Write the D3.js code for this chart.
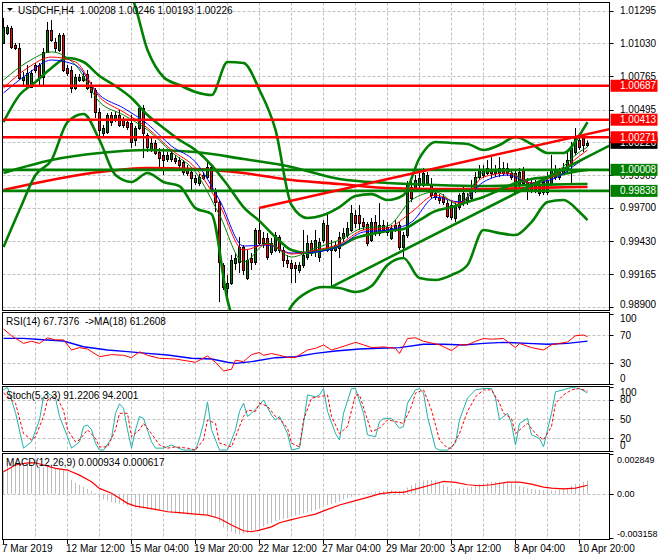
<!DOCTYPE html>
<html><head><meta charset="utf-8">
<script src="https://cdn.jsdelivr.net/npm/d3@7"></script>
<style>
body{margin:0;background:#fff}
svg{display:block}
text{font-family:"Liberation Sans",Arial,sans-serif;font-size:10px;white-space:pre}
</style></head>
<body><svg id="c" width="660" height="560"></svg>
<script>
// ---------- DATA ----------
const symbolTitle = "USDCHF,H4  1.00208 1.00246 1.00193 1.00226";
const openP = [
1.01033,1.01113,1.01154,1.01016,1.00992,1.00734,1.00677,1.00677,1.00855,1.00855,
1.00758,1.00960,1.01138,1.01041,1.00976,1.01097,1.00831,1.00814,1.00669,1.00734,
1.00734,1.00782,1.00677,1.00653,1.00475,1.00305,1.00313,1.00451,1.00410,1.00451,
1.00410,1.00394,1.00386,1.00249,1.00346,1.00507,1.00289,1.00168,1.00225,1.00152,
1.00128,1.00095,1.00095,1.00103,1.00087,1.00071,1.00023,0.99990,0.99910,0.99902,
0.99942,0.99950,1.00031,0.99845,0.99748,0.99239,0.99053,0.99094,0.99255,0.99263,
0.99384,0.99134,0.99296,0.99263,0.99522,0.99457,0.99457,0.99344,0.99360,0.99465,
0.99360,0.99280,0.99255,0.99239,0.99199,0.99239,0.99304,0.99417,0.99360,0.99304,
0.99441,0.99562,0.99360,0.99360,0.99465,0.99457,0.99481,0.99522,0.99643,0.99643,
0.99586,0.99570,0.99441,0.99586,0.99497,0.99562,0.99546,0.99457,0.99522,0.99562,
0.99384,0.99481,0.99869,0.99869,0.99885,0.99885,0.99902,0.99885,0.99820,0.99788,
0.99788,0.99740,0.99724,0.99619,0.99707,0.99740,0.99748,0.99780,0.99845,0.99950,
0.99966,0.99982,1.00006,0.99982,0.99982,0.99982,1.00023,0.99982,0.99982,0.99885,
1.00006,0.99910,0.99845,0.99902,0.99885,0.99910,0.99829,0.99902,0.99950,0.99950,
0.99982,1.00006,1.00071,1.00152,1.00249,1.00265,1.00208];
const highP = [
1.01235,1.01178,1.01170,1.01033,1.01033,1.00798,1.00855,1.00814,1.00871,1.00871,
1.00992,1.01202,1.01218,1.01073,1.01113,1.01113,1.00855,1.00847,1.00782,1.00782,
1.00790,1.00814,1.00717,1.00669,1.00507,1.00370,1.00467,1.00475,1.00475,1.00491,
1.00435,1.00410,1.00451,1.00362,1.00524,1.00532,1.00305,1.00265,1.00249,1.00184,
1.00184,1.00152,1.00168,1.00128,1.00111,1.00087,1.00047,1.00023,0.99966,0.99974,
0.99990,1.00087,1.00047,0.99861,0.99764,0.99255,0.99158,0.99320,0.99336,0.99465,
0.99400,0.99360,0.99336,0.99538,0.99699,0.99506,0.99497,0.99457,0.99506,0.99481,
0.99384,0.99320,0.99280,0.99263,0.99263,0.99522,0.99481,0.99441,0.99522,0.99457,
0.99602,0.99659,0.99441,0.99425,0.99506,0.99538,0.99586,0.99724,0.99683,0.99724,
0.99619,0.99586,0.99619,0.99643,0.99740,0.99602,0.99586,0.99562,0.99602,0.99586,
0.99506,0.99918,0.99926,0.99966,0.99990,1.00023,0.99990,0.99942,0.99861,0.99812,
0.99812,0.99764,0.99748,0.99740,0.99820,0.99885,0.99820,0.99926,0.99990,1.00047,
1.00047,1.00087,1.00111,1.00047,1.00111,1.00071,1.00063,1.00006,1.00006,1.00023,
1.00031,0.99942,0.99926,0.99926,0.99910,0.99942,0.99990,1.00128,1.00047,1.00023,
1.00063,1.00152,1.00233,1.00346,1.00281,1.00289,1.00246];
const lowP = [
1.01024,1.01097,1.00984,1.00976,1.00734,1.00693,1.00669,1.00669,1.00790,1.00693,
1.00677,1.00952,1.01041,1.00960,1.00960,1.00798,1.00766,1.00629,1.00653,1.00717,
1.00717,1.00653,1.00588,1.00427,1.00265,1.00281,1.00297,1.00362,1.00394,1.00354,
1.00346,1.00330,1.00184,1.00200,1.00330,1.00103,1.00152,1.00152,1.00128,1.00031,
0.99966,1.00071,1.00071,1.00055,1.00023,0.99966,0.99959,0.99845,0.99885,0.99877,
0.99926,0.99934,0.99829,0.99667,0.98940,0.99037,0.98940,0.99078,0.99199,0.99174,
0.99158,0.99118,0.99199,0.99239,0.99400,0.99376,0.99280,0.99320,0.99344,0.99336,
0.99223,0.99215,0.99094,0.99094,0.99174,0.99215,0.99280,0.99312,0.99304,0.99263,
0.99417,0.99344,0.99061,0.99344,0.99296,0.99425,0.99457,0.99506,0.99538,0.99522,
0.99522,0.99392,0.99425,0.99473,0.99473,0.99497,0.99473,0.99441,0.99506,0.99360,
0.99304,0.99457,0.99748,0.99845,0.99861,0.99869,0.99885,0.99780,0.99764,0.99732,
0.99724,0.99619,0.99602,0.99586,0.99683,0.99715,0.99724,0.99764,0.99820,0.99926,
0.99942,0.99966,0.99942,0.99950,0.99950,0.99959,0.99959,0.99926,0.99804,0.99861,
0.99885,0.99764,0.99820,0.99820,0.99796,0.99804,0.99804,0.99877,0.99926,0.99926,
0.99966,0.99990,0.99885,1.00128,1.00168,1.00152,1.00193];
const closeP = [
1.01162,1.01162,1.01000,1.00992,1.00750,1.00758,1.00790,1.00790,1.00814,1.00758,
1.00960,1.01138,1.01057,1.00992,1.01097,1.00814,1.00790,1.00669,1.00758,1.00758,
1.00766,1.00669,1.00637,1.00475,1.00330,1.00346,1.00451,1.00394,1.00451,1.00370,
1.00370,1.00354,1.00233,1.00346,1.00507,1.00305,1.00192,1.00225,1.00144,1.00103,
1.00087,1.00128,1.00144,1.00079,1.00047,0.99990,0.99982,0.99942,0.99942,0.99950,
0.99966,1.00031,0.99845,0.99748,0.99263,0.99061,0.99094,0.99280,0.99296,0.99384,
0.99199,0.99280,0.99263,0.99522,0.99417,0.99417,0.99304,0.99417,0.99481,0.99360,
0.99280,0.99255,0.99215,0.99215,0.99239,0.99320,0.99417,0.99336,0.99441,0.99425,
0.99578,0.99360,0.99384,0.99400,0.99376,0.99497,0.99538,0.99659,0.99578,0.99578,
0.99554,0.99417,0.99586,0.99497,0.99562,0.99522,0.99506,0.99538,0.99562,0.99384,
0.99481,0.99902,0.99780,0.99926,0.99942,0.99982,0.99966,0.99804,0.99788,0.99764,
0.99748,0.99635,0.99627,0.99724,0.99804,0.99820,0.99788,0.99861,0.99950,1.00006,
1.00006,1.00023,0.99982,1.00006,1.00023,1.00023,0.99982,0.99950,0.99829,0.99990,
0.99902,0.99845,0.99902,0.99845,0.99820,0.99829,0.99926,1.00006,1.00006,0.99990,
1.00023,1.00087,1.00184,1.00265,1.00192,1.00208,1.00226];

// fast moving averages (sampled bars)
const maIdx = [0,6,12,18,24,30,36,42,48,54,60,66,72,78,84,90,96,102,108,114,120,126,132,138,144,146];
const maBlue = [1.00629,1.00782,1.00895,1.00855,1.00612,1.00507,1.00378,1.00200,1.00071,0.99764,0.99392,0.99400,0.99336,0.99344,0.99392,0.99506,0.99522,0.99586,0.99788,0.99748,0.99910,0.99966,0.99902,0.99942,1.00071,1.00111];
const maRed = [1.00669,1.00831,1.00919,1.00879,1.00596,1.00475,1.00346,1.00168,1.00023,0.99724,0.99360,0.99408,0.99328,0.99360,0.99408,0.99522,0.99538,0.99667,0.99804,0.99740,0.99950,0.99982,0.99902,0.99966,1.00120,1.00168];
const maGreen = [1.00734,1.00879,1.00960,1.00855,1.00556,1.00451,1.00330,1.00152,0.99990,0.99643,0.99263,0.99417,0.99304,0.99376,0.99441,0.99538,0.99554,0.99764,0.99829,0.99724,0.99990,0.99998,0.99885,0.99982,1.00152,1.00192];

// Bollinger bands (sampled bars)
const bbIdx = [0,4,8,12,16,20,24,28,32,36,40,44,48,52,56,60,64,68,72,76,80,84,88,92,96,100,104,108,112,116,120,124,128,132,136,140,144,146];
const bbUpper = [1.01865,1.01865,1.01824,1.01744,1.01703,1.01663,1.01582,1.01501,1.01404,1.00976,1.00758,1.00693,1.00637,1.00612,1.00879,1.00871,1.00653,1.00330,0.99724,0.99619,0.99643,0.99707,0.99796,0.99812,0.99764,0.99804,1.00103,1.00233,1.00225,1.00217,1.00168,1.00208,1.00273,1.00217,1.00144,1.00144,1.00289,1.00394];
const bbMiddle = [1.00394,1.00612,1.00717,1.00831,1.00911,1.00879,1.00766,1.00685,1.00588,1.00451,1.00346,1.00249,1.00168,1.00047,0.99885,0.99707,0.99594,0.99465,0.99360,0.99336,0.99360,0.99392,0.99457,0.99489,0.99514,0.99530,0.99602,0.99675,0.99707,0.99748,0.99788,0.99845,0.99902,0.99934,0.99950,0.99974,0.99998,1.00006];
const bbLower = [0.99384,0.99683,0.99966,1.00087,1.00394,1.00459,1.00249,0.99966,0.99910,0.99982,0.99910,0.99877,0.99699,0.99651,0.98956,0.98592,0.98471,0.98633,0.98908,0.99021,0.99061,0.99053,0.99021,0.99069,0.99239,0.99296,0.99134,0.99118,0.99158,0.99239,0.99522,0.99497,0.99481,0.99586,0.99748,0.99764,0.99667,0.99602];

// slow moving averages
const longIdx = [0,12,24,36,48,60,72,84,96,108,120,132,144,146];
const maSlowGreen = [0.99982,1.00087,1.00144,1.00168,1.00152,1.00095,1.00031,0.99934,0.99902,0.99885,0.99877,0.99885,0.99893,0.99893];
const maSlowRed = [0.99845,0.99926,0.99990,1.00023,1.00015,0.99982,0.99926,0.99893,0.99861,0.99853,0.99853,0.99861,0.99869,0.99869];

// horizontal levels and trend lines
const redLevels = [1.00687,1.00413,1.00271];
const greenLevels = [1.00008,0.99838];
const lastPrice = 1.00226;
const redTrendIdx = [64,146], redTrendPrice = [0.99699,1.00296];
const greenTrendIdx = [82,146], greenTrendPrice = [0.99061,1.00111];

// axes
const priceTicks = [1.01295,1.01030,1.00765,1.00495,1.00230,0.99965,0.99700,0.99430,0.99165,0.98900];
const priceTickLabels = ["1.01295","1.01030","1.00765","1.00495","","0.99965","0.99700","0.99430","0.99165","0.98900"];
const timeIdx = [0,16,32,48,64,80,96,112,128,144];
const timeLabels = ["7 Mar 2019","12 Mar 12:00","15 Mar 04:00","19 Mar 20:00","22 Mar 12:00","27 Mar 04:00","29 Mar 20:00","3 Apr 12:00","8 Apr 04:00","10 Apr 20:00"];

// RSI(14) and MA(18)
const rsiTitle = "RSI(14) 67.7376  ->MA(18) 61.2608";
const rsiIdx = [0,2,5,7,9,11,13,15,17,19,21,24,27,30,32,34,36,39,43,48,51,53,55,57,58,60,62,64,65,67,69,71,73,76,78,80,82,84,88,90,92,95,98,99,101,103,105,109,112,114,116,118,120,122,125,128,129,132,135,137,139,141,143,145,146];
const rsiVal = [78.6,69,58,61,58,66,63,63,48.6,52,50,39,42,41,37.6,46,41,36.7,35.7,31,40,31,18.6,21,34,32,42,45,41,43.5,41,38,38,48.6,51,55.7,48.6,52,59.5,56,52,53,51,43.5,65,66,61,56,47.6,56,56,61,65,64,65,52,58,52,48.6,56,58,60,69,70,67.7];
const rsiMaIdx = [0,5,10,15,20,26,31,36,41,47,52,56,58,62,68,73,78,83,89,94,99,105,110,115,120,125,131,136,141,146];
const rsiMaVal = [65.2,65.2,63.3,61.4,53.3,48.6,46.2,43.8,41.4,36.7,35.7,31.0,29.5,31.9,37.6,39.0,43.8,47.1,50.0,51.0,51.9,56.7,56.7,55.7,58.1,59.5,58.1,56.7,58.1,61.26];
const rsiTicks = [100,70,30,0];
const rsiLevels = [70,30];

// Stochastic(5,3,3)
const stTitle = "Stoch(5,3,3) 91.2206 94.2001";
const stIdx = [0,1,3,5,7,9,10,11,13,14,16,17,19,20,21,22,23,24,25,27,28,29,30,31,32,33,34,35,37,38,40,42,43,45,48,49,50,51,52,54,56,58,59,60,61,62,64,65,67,68,69,71,72,74,75,76,78,79,80,81,83,84,85,87,88,90,91,93,94,95,97,99,100,101,103,104,105,106,108,109,111,113,114,116,118,120,122,123,124,126,127,128,129,131,132,134,135,137,138,140,142,144,146];
const stMain = [96,100,60,4,14,48.5,85,91,83,54,22,4,14,38,40.5,33,11.6,1,1,19.5,59,74,67,33,4,33,54,51,14,4,4,9,6,1,1,19.5,43,77,33,1,1,33,62,75,54,59,72,80,56,48.5,54,27,1,4,43,88,85,88,98,62,27,17,59,98,98,59,25,22,46,51,51,35.5,38,75,96,98,91,54,4,1,1,12,48.5,83,96,98,98,83,48.5,59,43,9,43,51,25,19.5,6,59,93,96,100,98,91.22];
const sgIdx = [0,3,5,7,8,10,11,13,15,16,18,19,21,23,24,26,28,29,31,32,34,35,37,39,41,43,46,48,50,51,53,54,57,58,60,61,63,64,66,68,69,71,72,74,75,77,79,81,82,84,86,88,89,91,92,94,96,98,100,102,103,105,107,109,111,112,114,116,118,120,122,124,125,127,128,130,131,133,135,137,138,140,142,144,146];
const stSignal = [91,75,27,17,22,54,80,88,64,33,14,17,33,19.5,6,6,33,59,59,22,33,43,27,9,4,6,4,1,17,48.5,43,12,6,22,54,64,62,75,70,54,51,35.5,12,6,48.5,83,85,88,54,27,38,88,88,48.5,30,35.5,48.5,46,43,70,91,96,64,17,4,4,27,62,85,96,96,75,59,51,27,38,43,27,17,38,75,88,96,98,94.2];
const stTicks = [100,80,50,20,0];
const stLevels = [80,50,20];

// MACD(12,26,9)
const macdTitle = "MACD(12,26,9) 0.000934 0.000617";
const macdHist = [
0.00170,0.00200,0.00210,0.00220,0.00220,0.00220,0.00210,0.00210,0.00200,0.00195,
0.00190,0.00195,0.00190,0.00185,0.00180,0.00170,0.00155,0.00100,0.00080,0.00065,
0.00050,0.00035,0.00020,0.00005,-0.00030,-0.00040,-0.00050,-0.00060,-0.00065,-0.00070,
-0.00075,-0.00085,-0.00090,-0.00100,-0.00105,-0.00105,-0.00110,-0.00115,-0.00120,-0.00120,
-0.00125,-0.00130,-0.00140,-0.00140,-0.00145,-0.00145,-0.00150,-0.00150,-0.00150,-0.00150,
-0.00145,-0.00150,-0.00160,-0.00170,-0.00200,-0.00240,-0.00260,-0.00270,-0.00285,-0.00290,
-0.00285,-0.00280,-0.00270,-0.00260,-0.00250,-0.00235,-0.00220,-0.00210,-0.00195,-0.00185,
-0.00180,-0.00175,-0.00165,-0.00155,-0.00150,-0.00140,-0.00135,-0.00125,-0.00115,-0.00105,
-0.00095,-0.00080,-0.00075,-0.00065,-0.00055,-0.00040,-0.00030,-0.00020,-0.00015,-0.00010,
-0.00005,0.00005,0.00010,0.00015,0.00020,0.00020,0.00025,0.00025,0.00020,0.00020,
0.00025,0.00045,0.00060,0.00075,0.00085,0.00095,0.00100,0.00100,0.00095,0.00085,
0.00065,0.00050,0.00040,0.00035,0.00040,0.00040,0.00045,0.00050,0.00060,0.00070,
0.00075,0.00080,0.00085,0.00085,0.00085,0.00080,0.00080,0.00075,0.00070,0.00055,
0.00050,0.00040,0.00035,0.00030,0.00030,0.00025,0.00020,0.00025,0.00025,0.00030,
0.00035,0.00040,0.00055,0.00070,0.00075,0.00085,0.000934];
const macdSigIdx = [0,3,6,8,10,13,16,19,22,24,27,29,31,33,35,38,41,44,48,51,54,57,60,62,64,67,69,72,75,78,81,84,88,91,94,97,100,103,107,110,113,116,119,122,126,129,132,135,137,140,143,146];
const macdSig = [0.00158,0.00206,0.00222,0.00222,0.00206,0.00182,0.00170,0.00134,0.00087,0.00039,0.00004,-0.00032,-0.00068,-0.00088,-0.00097,-0.00111,-0.00128,-0.00135,-0.00145,-0.00152,-0.00176,-0.00223,-0.00264,-0.00271,-0.00260,-0.00236,-0.00207,-0.00184,-0.00164,-0.00145,-0.00111,-0.00080,-0.00049,-0.00025,0.00000,0.00010,0.00010,0.00034,0.00065,0.00089,0.00082,0.00065,0.00058,0.00065,0.00084,0.00084,0.00070,0.00048,0.00041,0.00036,0.00041,0.000617];
const macdTicks = [0.002849,0,-0.003158];
const macdTickLabels = ["0.002849","0.00","-0.003158"];

// ---------- DRAW ----------
const svg = d3.select('#c');
svg.append('rect').attr('width',660).attr('height',560).attr('fill','#fff');
const XL = 2.5, XR = 609.5;
const panels = {main:[2.5,310.5], rsi:[312.5,384.5], st:[386.5,451.5], macd:[453.5,539.5]};
const x = d3.scaleLinear().domain([0,146]).range([3,587]);
const yP = d3.scaleLinear().domain([0.98900,1.01295]).range([307,10.5]);
const yR = d3.scaleLinear().domain([0,100]).range([384,314]);
const yS = d3.scaleLinear().domain([0,100]).range([450.7,387.3]);
const yM = d3.scaleLinear().domain([-0.003158,0.002849]).range([538,454]);
const GRID = '#c0c0c0';
const defs = svg.append('defs');
Object.entries(panels).forEach(([k,[t,b]])=>{
  defs.append('clipPath').attr('id','clip-'+k).append('rect')
    .attr('x',XL+0.5).attr('y',t+0.5).attr('width',XR-XL-1).attr('height',b-t-1);
});
const gridIdx = d3.range(8,147,8);
function vgrid(k){
  const [t,b]=panels[k];
  svg.append('g').selectAll('line').data(gridIdx).join('line')
    .attr('x1',d=>x(d)+0.5).attr('x2',d=>x(d)+0.5).attr('y1',t).attr('y2',b)
    .attr('stroke',GRID).attr('stroke-dasharray','3,2');
}
function hgrid(k,vals,sc){
  svg.append('g').selectAll('line').data(vals).join('line')
    .attr('x1',XL).attr('x2',XR).attr('y1',d=>Math.round(sc(d))+0.5).attr('y2',d=>Math.round(sc(d))+0.5)
    .attr('stroke',GRID).attr('stroke-dasharray','3,2');
}
Object.keys(panels).forEach(vgrid);
hgrid('main',priceTicks,yP);
hgrid('rsi',rsiLevels,yR);
hgrid('st',stLevels,yS);
hgrid('macd',[0],yM);

// ----- main chart -----
const gm = svg.append('g').attr('clip-path','url(#clip-main)');
const lineP = (idx,vals,curve)=>d3.line().curve(curve||d3.curveLinear).x(d=>x(d[0])+0.5).y(d=>yP(d[1]))(d3.zip(idx,vals));

// candles
const bars = d3.range(openP.length);
gm.append('g').selectAll('line').data(bars).join('line')
  .attr('x1',i=>x(i)+0.5).attr('x2',i=>x(i)+0.5)
  .attr('y1',i=>yP(highP[i])).attr('y2',i=>yP(lowP[i]))
  .attr('stroke','#000').attr('stroke-width',1);
gm.append('g').selectAll('rect').data(bars).join('rect')
  .attr('x',i=>x(i)-0.5).attr('width',2)
  .attr('y',i=>Math.round(yP(Math.max(openP[i],closeP[i])))+0.5)
  .attr('height',i=>Math.max(0.01,Math.round(yP(Math.min(openP[i],closeP[i])))-Math.round(yP(Math.max(openP[i],closeP[i])))))
  .attr('fill',i=>closeP[i]>=openP[i]?'#007a00':'#ff0000')
  .attr('stroke','#000').attr('stroke-width',1);

// slow MAs
gm.append('path').attr('d',lineP(longIdx,maSlowRed,d3.curveMonotoneX)).attr('fill','none').attr('stroke','#ff0000').attr('stroke-width',2.6);
gm.append('path').attr('d',lineP(longIdx,maSlowGreen,d3.curveMonotoneX)).attr('fill','none').attr('stroke','#008000').attr('stroke-width',2.6);
// bollinger
[bbUpper,bbMiddle,bbLower].forEach(v=>{
  gm.append('path').attr('d',lineP(bbIdx,v,d3.curveMonotoneX)).attr('fill','none').attr('stroke','#008000').attr('stroke-width',2.6);
});
// fast MAs
[[maBlue,'#0000ff'],[maRed,'#ff0000'],[maGreen,'#008000']].forEach(([v,c])=>{
  gm.append('path').attr('d',lineP(maIdx,v,d3.curveMonotoneX)).attr('fill','none').attr('stroke',c).attr('stroke-width',1);
});
// horizontal levels
gm.append('g').selectAll('line').data(redLevels).join('line')
  .attr('x1',XL).attr('x2',XR).attr('y1',d=>yP(d)).attr('y2',d=>yP(d))
  .attr('stroke','#ff0000').attr('stroke-width',2.6);
gm.append('g').selectAll('line').data(greenLevels).join('line')
  .attr('x1',XL).attr('x2',XR).attr('y1',d=>yP(d)).attr('y2',d=>yP(d))
  .attr('stroke','#008000').attr('stroke-width',2.6);
// trend lines extended to the right edge
function trend(idx,pr,color){
  const x1=x(idx[0]), y1=yP(pr[0]), x2=x(idx[1]), y2=yP(pr[1]);
  const s=(y2-y1)/(x2-x1);
  gm.append('line').attr('x1',x1).attr('y1',y1).attr('x2',XR).attr('y2',y1+s*(XR-x1))
    .attr('stroke',color).attr('stroke-width',2.6);
}
trend(redTrendIdx,redTrendPrice,'#ff0000');
trend(greenTrendIdx,greenTrendPrice,'#008000');

// ----- RSI -----
const gr = svg.append('g').attr('clip-path','url(#clip-rsi)');
gr.append('path').attr('d',d3.line().x(d=>x(d[0])+0.5).y(d=>yR(d[1]))(d3.zip(rsiMaIdx,rsiMaVal)))
  .attr('fill','none').attr('stroke','#0000ff').attr('stroke-width',1.4);
gr.append('path').attr('d',d3.line().x(d=>x(d[0])+0.5).y(d=>yR(d[1]))(d3.zip(rsiIdx,rsiVal)))
  .attr('fill','none').attr('stroke','#ff0000').attr('stroke-width',1);

// ----- Stochastic -----
const gs = svg.append('g').attr('clip-path','url(#clip-st)');
gs.append('path').attr('d',d3.line().x(d=>x(d[0])+0.5).y(d=>yS(d[1]))(d3.zip(stIdx,stMain)))
  .attr('fill','none').attr('stroke','#20b2aa').attr('stroke-width',1);
gs.append('path').attr('d',d3.line().x(d=>x(d[0])+0.5).y(d=>yS(d[1]))(d3.zip(sgIdx,stSignal)))
  .attr('fill','none').attr('stroke','#ff0000').attr('stroke-width',1).attr('stroke-dasharray','3,2');

// ----- MACD -----
const gmc = svg.append('g').attr('clip-path','url(#clip-macd)');
gmc.append('g').selectAll('line').data(bars).join('line')
  .attr('x1',i=>x(i)+0.5).attr('x2',i=>x(i)+0.5)
  .attr('y1',yM(0)).attr('y2',i=>yM(macdHist[i]))
  .attr('stroke','#bdbdbd').attr('stroke-width',1);
gmc.append('path').attr('d',d3.line().x(d=>x(d[0])+0.5).y(d=>yM(d[1]))(d3.zip(macdSigIdx,macdSig)))
  .attr('fill','none').attr('stroke','#ff0000').attr('stroke-width',1.2);

// panel frames
Object.values(panels).forEach(([t,b])=>{
  svg.append('rect').attr('x',XL).attr('y',t).attr('width',XR-XL).attr('height',b-t)
    .attr('fill','none').attr('stroke','#000').attr('stroke-width',1);
});

// titles
svg.append('path').attr('d','M7,8 L13,8 L10,11 Z').attr('fill','#000');
svg.append('text').attr('x',18).attr('y',14).text(symbolTitle);
svg.append('text').attr('x',6).attr('y',325).text(rsiTitle);
svg.append('text').attr('x',6).attr('y',399).text(stTitle);
svg.append('text').attr('x',6).attr('y',466).text(macdTitle);

// right axis labels
const LX = 620;
function rightLabels(k,vals,sc,fmt,lx,fs){
  const [t,b]=panels[k];
  const g=svg.append('g');
  vals.forEach((v,j)=>{
    const yy=Math.max(t+6,Math.min(b-6,sc(v)));
    g.append('line').attr('x1',XR).attr('x2',XR+4).attr('y1',Math.round(sc(v))+0.5).attr('y2',Math.round(sc(v))+0.5).attr('stroke','#000');
    const s=fmt(v,j);
    if(s) g.append('text').attr('x',lx||LX).attr('y',yy).attr('dy','0.35em').style('font-size',(fs||10)+'px').text(s);
  });
}
rightLabels('main',priceTicks,yP,(v,j)=>priceTickLabels[j]);
rightLabels('rsi',rsiTicks,yR,v=>String(v));
rightLabels('st',stTicks,yS,v=>String(v));
rightLabels('macd',macdTicks,yM,(v,j)=>macdTickLabels[j],617,9);

// price boxes
function box(p,bg){
  const yy=yP(p);
  svg.append('rect').attr('x',XR+1).attr('y',yy-6).attr('width',47).attr('height',12).attr('fill',bg);
  svg.append('text').attr('x',LX).attr('y',yy).attr('dy','0.35em').attr('fill','#fff').text(p.toFixed(5));
}
box(lastPrice,'#000');
redLevels.forEach(p=>box(p,'#ff0000'));
greenLevels.forEach(p=>box(p,'#008000'));

// time axis
svg.append('g').selectAll('line').data(timeIdx).join('line')
  .attr('x1',d=>x(d)+0.5).attr('x2',d=>x(d)+0.5).attr('y1',539.5).attr('y2',544)
  .attr('stroke','#000');
svg.append('g').selectAll('text').data(timeIdx).join('text')
  .attr('x',d=>x(d)-1).attr('y',552).text((d,j)=>timeLabels[j]);
</script></body></html>
